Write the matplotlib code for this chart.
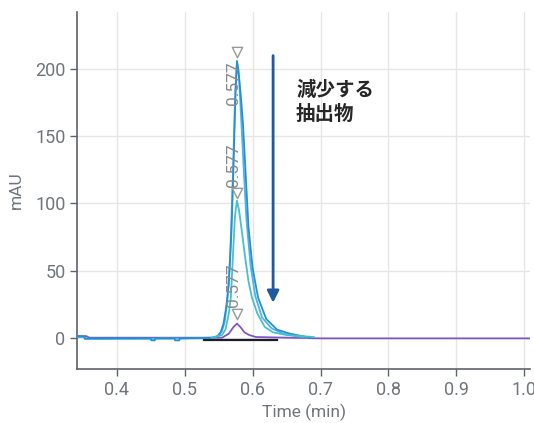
import matplotlib
matplotlib.use("Agg")
import matplotlib.pyplot as plt

plt.rcParams['font.family'] = ['Roboto', 'Noto Sans CJK JP', 'DejaVu Sans']

# trace 1 (tallest, blue)
t1 = [0.342, 0.352, 0.353, 0.450, 0.451, 0.456, 0.457, 0.485, 0.486, 0.492, 0.493, 0.540,
      0.548, 0.553, 0.557, 0.561, 0.565, 0.569, 0.572, 0.575, 0.577, 0.579, 0.583, 0.586,
      0.590, 0.594, 0.600, 0.608, 0.620, 0.636, 0.655, 0.670, 0.685]
y1 = [1.0, 1.0, -0.5, -0.5, -2.0, -2.0, -0.5, -0.5, -2.0, -2.0, -0.5, 0.0,
      1.0, 4.0, 10.0, 22.0, 40.0, 80.0, 130.0, 185.0, 206.0, 200.0, 178.0, 158.0,
      120.0, 82.0, 52.0, 30.0, 14.0, 6.0, 3.0, 1.5, 0.0]

# trace 2 (tall, lighter blue)
t2 = [0.342, 0.352, 0.353, 0.540, 0.550, 0.555, 0.559, 0.563, 0.567, 0.571, 0.574, 0.577,
      0.580, 0.583, 0.587, 0.591, 0.597, 0.604, 0.614, 0.628, 0.645, 0.665, 0.680]
y2 = [0.5, 0.5, -1.0, -0.5, 1.5, 5.0, 12.0, 28.0, 60.0, 120.0, 175.0, 204.0,
      194.0, 165.0, 125.0, 88.0, 54.0, 31.0, 15.0, 7.0, 3.0, 1.0, 0.0]

# trace 3 (middle, teal)
t3 = [0.540, 0.555, 0.560, 0.565, 0.568, 0.571, 0.574, 0.577, 0.580, 0.584, 0.589, 0.594,
      0.599, 0.607, 0.618, 0.630, 0.650, 0.690]
y3 = [0.0, 2.0, 6.0, 18.0, 30.0, 60.0, 90.0, 102.0, 95.0, 80.0, 60.0, 42.0,
      30.0, 18.0, 8.0, 4.0, 2.0, 0.5]

# trace 4 (small, purple)
t4 = [0.342, 0.355, 0.360, 0.555, 0.565, 0.572, 0.577, 0.582, 0.588, 0.595, 0.605, 0.700, 1.008]
y4 = [1.2, 1.2, 0.0, 0.0, 3.0, 8.0, 10.5, 8.0, 4.0, 2.0, 0.5, -0.5, -0.5]

# integration baseline
tb = [0.528, 0.636]
yb = [-1.6, -1.6]

peak_t = [0.5776, 0.5776, 0.5776]
peak_marker_y = [212.6, 107.7, 17.6]
peak_label_y = [189.6, 128.5, 38.9]
peak_labels = ["0.577", "0.577", "0.577"]

xticks = [0.4, 0.5, 0.6, 0.7, 0.8, 0.9, 1.0]
yticks = [0, 50, 100, 150, 200]

fig = plt.figure(figsize=(5.34, 4.23), dpi=100)
ax = fig.add_axes([0.1448, 0.127, 0.8477, 0.8453])

grid_c = '#e6e6e6'
for x in xticks:
    ax.axvline(x, color=grid_c, lw=1, zorder=0)
for y in yticks:
    ax.axhline(y, color=grid_c, lw=1, zorder=0)

ax.plot(t4, y4, color='#7e57c2', lw=1.3, zorder=3)
ax.plot(t2, y2, color='#4fb3e6', lw=1.3, zorder=3)
ax.plot(t1, y1, color='#2490d4', lw=1.3, zorder=3)
ax.plot(t3, y3, color='#45c1c9', lw=1.3, zorder=3)
ax.plot(tb, yb, color='#1c1c2a', lw=1.6, zorder=4)

ax.scatter(peak_t, peak_marker_y, marker='v', s=55, facecolors='white',
           edgecolors='#999999', linewidths=1.0, zorder=5)
for x, y, s in zip([0.5713] * 3, peak_label_y, peak_labels):
    ax.text(x, y, s, rotation=90, ha='center', va='center', fontsize=12.5,
            color='#8a8a8a', zorder=6)

ax.annotate('', xy=(0.6302, 24.0), xytext=(0.6302, 212.0),
            arrowprops=dict(arrowstyle='-|>,head_width=0.35,head_length=0.7',
                            color='#1f5a9e', lw=2.0), zorder=6)
ax.text(0.6641, 191.3, "減少する\n抽出物", ha='left', va='top', fontsize=14,
        fontweight='bold', color='#262626', linespacing=1.35,
        family=['Noto Sans CJK JP', 'DejaVu Sans'], zorder=6)

ax.set_xlim(0.342, 1.0084)
ax.set_ylim(-23.5, 242.6)
ax.set_xticks(xticks)
ax.set_xticklabels(["0.4", "0.5", "0.6", "0.7", "0.8", "0.9", "1.0"])
ax.set_yticks(yticks)

for side in ['top', 'right']:
    ax.spines[side].set_visible(False)
for side in ['left', 'bottom']:
    ax.spines[side].set_color('#5f6368')
    ax.spines[side].set_linewidth(1.2)
ax.tick_params(colors='#5f6368', labelcolor='#70757a', labelsize=13, length=5, width=1)

ax.set_xlabel('Time (min)', fontsize=12.5, color='#70757a', labelpad=3)
ax.set_ylabel('mAU', fontsize=12.5, color='#70757a', labelpad=8)

fig.savefig('out.png', dpi=100)
